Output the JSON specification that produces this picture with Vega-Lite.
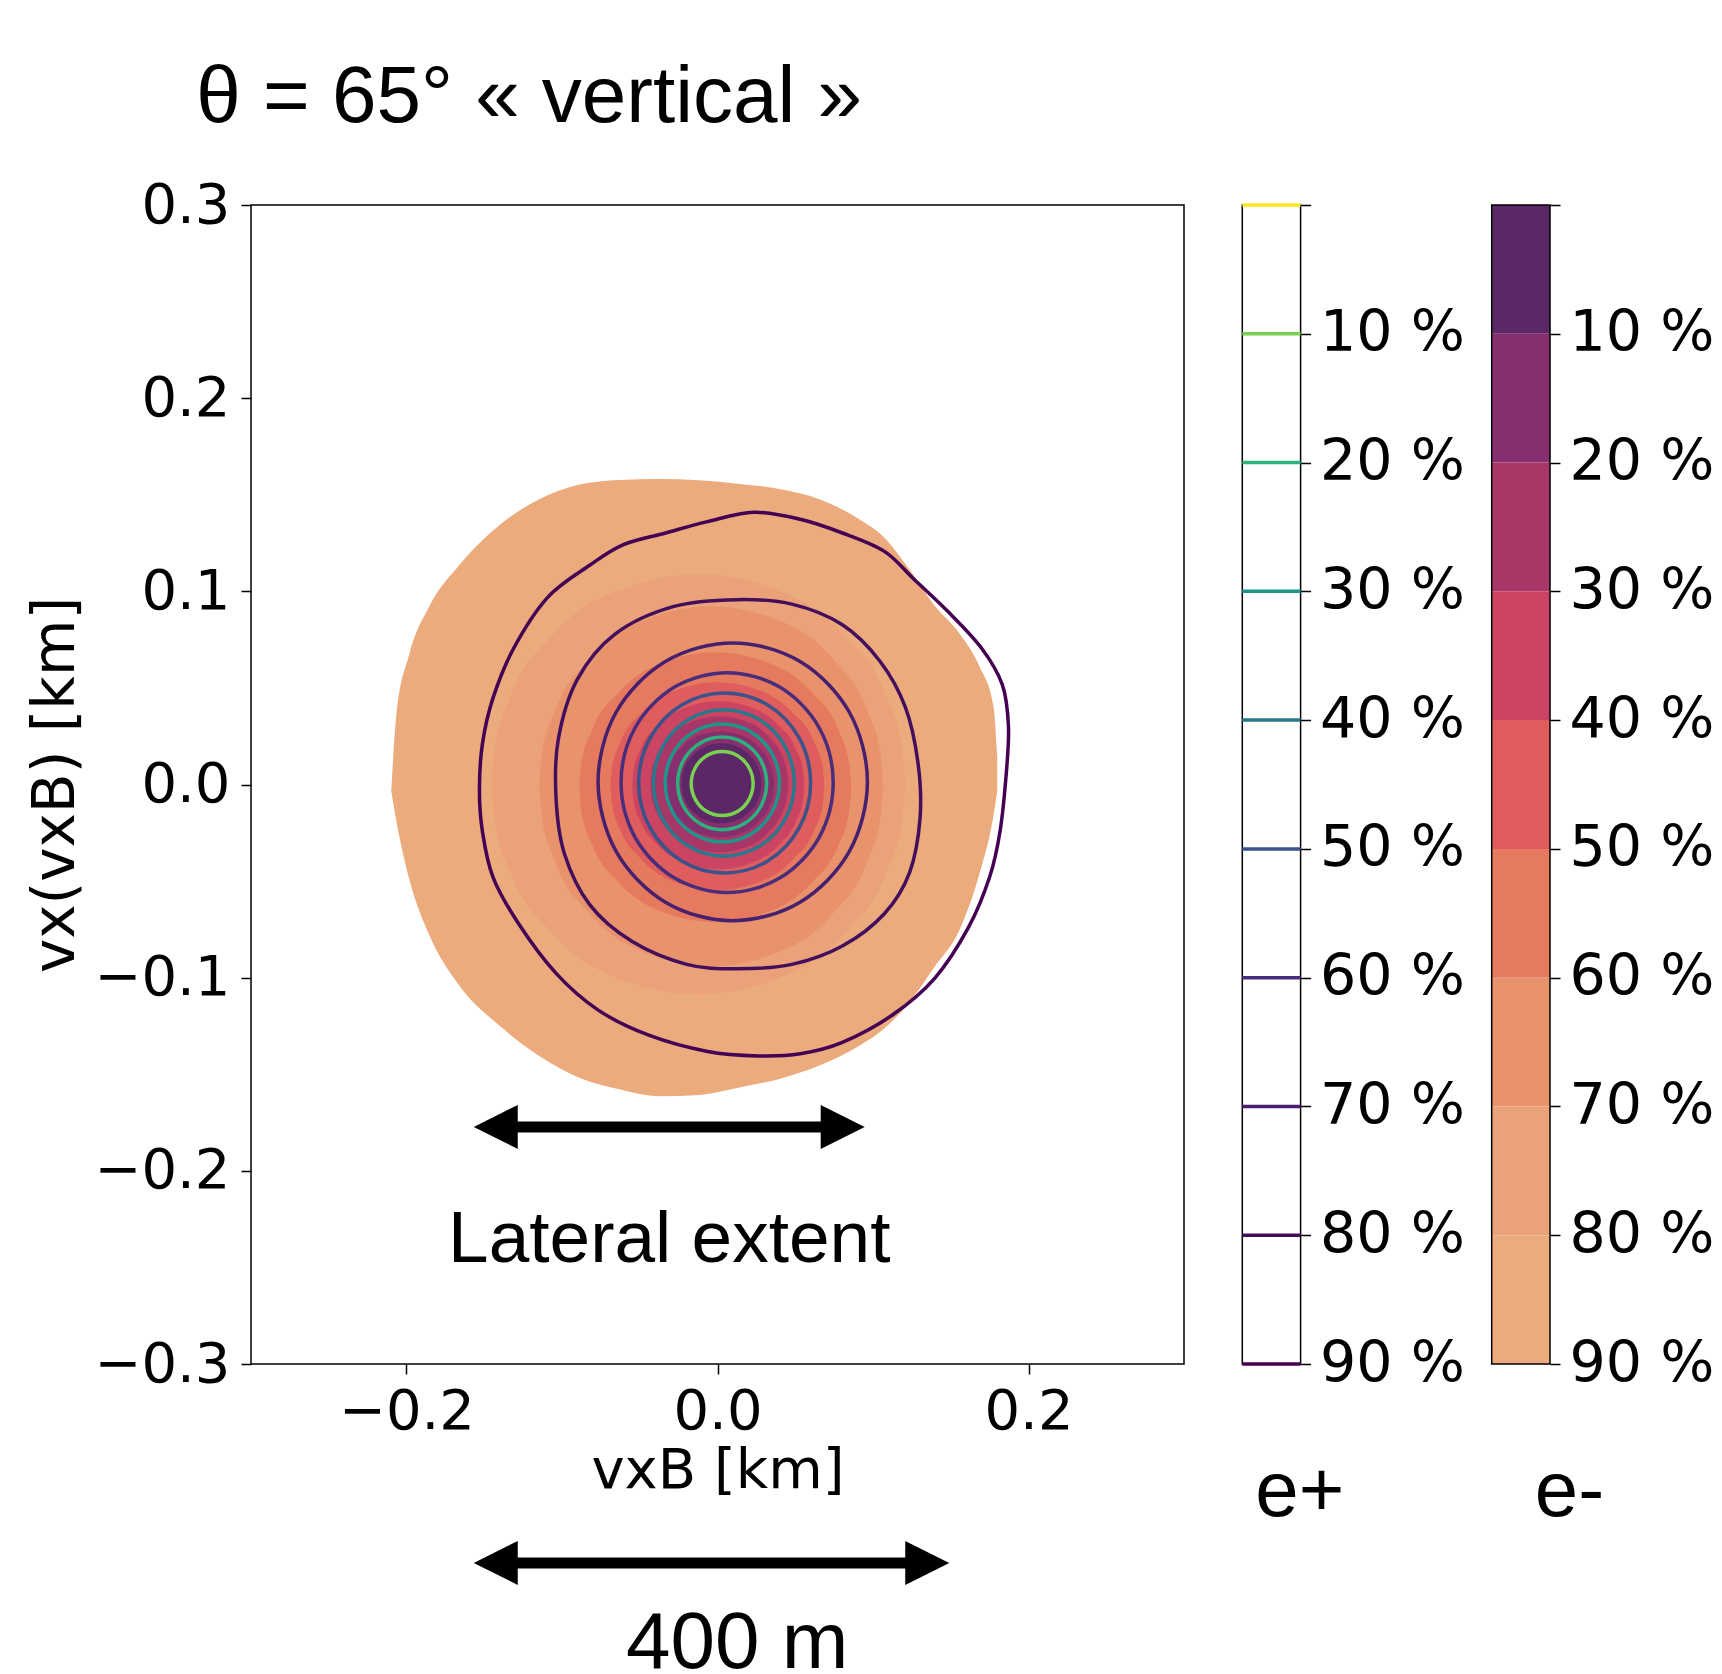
{
  "$schema": "https://vega.github.io/schema/vega-lite/v6.json",
  "background": "white",
  "padding": {"left": 26, "top": 57, "right": 5, "bottom": 0},
  "bounds": "flush",
  "spacing": 58.3,
  "resolve": {"scale": {"color": "independent"}},
  "datasets": {
    "fill": [
      {"p":90,"x":-0.2098,"y":-0.0035,"y2":-0.0035},
      {"p":90,"x":-0.2066,"y":0.0353,"y2":-0.0185},
      {"p":90,"x":-0.1982,"y":0.0674,"y2":-0.0491},
      {"p":90,"x":-0.1853,"y":0.0923,"y2":-0.0781},
      {"p":90,"x":-0.1660,"y":0.1136,"y2":-0.1042},
      {"p":90,"x":-0.1403,"y":0.1342,"y2":-0.1248},
      {"p":90,"x":-0.1146,"y":0.1477,"y2":-0.1406},
      {"p":90,"x":-0.0889,"y":0.1553,"y2":-0.1518},
      {"p":90,"x":-0.0632,"y":0.1577,"y2":-0.1578},
      {"p":90,"x":-0.0374,"y":0.1582,"y2":-0.1614},
      {"p":90,"x":-0.0117,"y":0.1575,"y2":-0.1607},
      {"p":90,"x":0.0140,"y":0.1556,"y2":-0.1569},
      {"p":90,"x":0.0398,"y":0.1530,"y2":-0.1524},
      {"p":90,"x":0.0655,"y":0.1477,"y2":-0.1455},
      {"p":90,"x":0.0912,"y":0.1373,"y2":-0.1352},
      {"p":90,"x":0.1073,"y":0.1278,"y2":-0.1263},
      {"p":90,"x":0.1234,"y":0.1114,"y2":-0.1128},
      {"p":90,"x":0.1394,"y":0.0928,"y2":-0.0946},
      {"p":90,"x":0.1555,"y":0.0783,"y2":-0.0755},
      {"p":90,"x":0.1684,"y":0.0612,"y2":-0.0463},
      {"p":90,"x":0.1774,"y":0.0410,"y2":-0.0165},
      {"p":90,"x":0.1799,"y":0.0146,"y2":-0.0035},

      {"p":80,"x":-0.1454,"y":0.0001,"y2":0.0001},
      {"p":80,"x":-0.1434,"y":0.0190,"y2":-0.0188},
      {"p":80,"x":-0.1329,"y":0.0461,"y2":-0.0459},
      {"p":80,"x":-0.1064,"y":0.0770,"y2":-0.0768},
      {"p":80,"x":-0.0578,"y":0.1023,"y2":-0.1021},
      {"p":80,"x":-0.0123,"y":0.1088,"y2":-0.1086},
      {"p":80,"x":0.0332,"y":0.1023,"y2":-0.1021},
      {"p":80,"x":0.0818,"y":0.0770,"y2":-0.0768},
      {"p":80,"x":0.1083,"y":0.0461,"y2":-0.0459},
      {"p":80,"x":0.1188,"y":0.0190,"y2":-0.0188},
      {"p":80,"x":0.1208,"y":0.0001,"y2":0.0001},

      {"p":70,"x":-0.1146,"y":-0.0009,"y2":-0.0009},
      {"p":70,"x":-0.1129,"y":0.0153,"y2":-0.0171},
      {"p":70,"x":-0.1042,"y":0.0385,"y2":-0.0403},
      {"p":70,"x":-0.0822,"y":0.0650,"y2":-0.0668},
      {"p":70,"x":-0.0418,"y":0.0867,"y2":-0.0885},
      {"p":70,"x":-0.0040,"y":0.0923,"y2":-0.0941},
      {"p":70,"x":0.0338,"y":0.0867,"y2":-0.0885},
      {"p":70,"x":0.0742,"y":0.0650,"y2":-0.0668},
      {"p":70,"x":0.0962,"y":0.0385,"y2":-0.0403},
      {"p":70,"x":0.1049,"y":0.0153,"y2":-0.0171},
      {"p":70,"x":0.1066,"y":-0.0009,"y2":-0.0009},

      {"p":60,"x":-0.0889,"y":-0.0015,"y2":-0.0015},
      {"p":60,"x":-0.0876,"y":0.0107,"y2":-0.0137},
      {"p":60,"x":-0.0807,"y":0.0281,"y2":-0.0311},
      {"p":60,"x":-0.0633,"y":0.0479,"y2":-0.0509},
      {"p":60,"x":-0.0313,"y":0.0642,"y2":-0.0672},
      {"p":60,"x":-0.0014,"y":0.0684,"y2":-0.0714},
      {"p":60,"x":0.0285,"y":0.0642,"y2":-0.0672},
      {"p":60,"x":0.0605,"y":0.0479,"y2":-0.0509},
      {"p":60,"x":0.0779,"y":0.0281,"y2":-0.0311},
      {"p":60,"x":0.0848,"y":0.0107,"y2":-0.0137},
      {"p":60,"x":0.0861,"y":-0.0015,"y2":-0.0015},

      {"p":50,"x":-0.0689,"y":-0.0009,"y2":-0.0009},
      {"p":50,"x":-0.0679,"y":0.0085,"y2":-0.0103},
      {"p":50,"x":-0.0624,"y":0.0219,"y2":-0.0237},
      {"p":50,"x":-0.0487,"y":0.0371,"y2":-0.0389},
      {"p":50,"x":-0.0236,"y":0.0497,"y2":-0.0515},
      {"p":50,"x":-0.0001,"y":0.0529,"y2":-0.0547},
      {"p":50,"x":0.0234,"y":0.0497,"y2":-0.0515},
      {"p":50,"x":0.0485,"y":0.0371,"y2":-0.0389},
      {"p":50,"x":0.0622,"y":0.0219,"y2":-0.0237},
      {"p":50,"x":0.0677,"y":0.0085,"y2":-0.0103},
      {"p":50,"x":0.0687,"y":-0.0009,"y2":-0.0009},

      {"p":40,"x":-0.0548,"y":-0.0004,"y2":-0.0004},
      {"p":40,"x":-0.0540,"y":0.0072,"y2":-0.0080},
      {"p":40,"x":-0.0496,"y":0.0180,"y2":-0.0188},
      {"p":40,"x":-0.0386,"y":0.0304,"y2":-0.0312},
      {"p":40,"x":-0.0184,"y":0.0405,"y2":-0.0413},
      {"p":40,"x":0.0005,"y":0.0431,"y2":-0.0439},
      {"p":40,"x":0.0194,"y":0.0405,"y2":-0.0413},
      {"p":40,"x":0.0396,"y":0.0304,"y2":-0.0312},
      {"p":40,"x":0.0506,"y":0.0180,"y2":-0.0188},
      {"p":40,"x":0.0550,"y":0.0072,"y2":-0.0080},
      {"p":40,"x":0.0558,"y":-0.0004,"y2":-0.0004},

      {"p":30,"x":-0.0432,"y":0.0001,"y2":0.0001},
      {"p":30,"x":-0.0425,"y":0.0062,"y2":-0.0060},
      {"p":30,"x":-0.0390,"y":0.0150,"y2":-0.0148},
      {"p":30,"x":-0.0302,"y":0.0250,"y2":-0.0248},
      {"p":30,"x":-0.0140,"y":0.0332,"y2":-0.0330},
      {"p":30,"x":0.0012,"y":0.0353,"y2":-0.0351},
      {"p":30,"x":0.0164,"y":0.0332,"y2":-0.0330},
      {"p":30,"x":0.0326,"y":0.0250,"y2":-0.0248},
      {"p":30,"x":0.0414,"y":0.0150,"y2":-0.0148},
      {"p":30,"x":0.0449,"y":0.0062,"y2":-0.0060},
      {"p":30,"x":0.0456,"y":0.0001,"y2":0.0001},

      {"p":20,"x":-0.0329,"y":0.0001,"y2":0.0001},
      {"p":20,"x":-0.0324,"y":0.0049,"y2":-0.0047},
      {"p":20,"x":-0.0296,"y":0.0117,"y2":-0.0115},
      {"p":20,"x":-0.0227,"y":0.0195,"y2":-0.0193},
      {"p":20,"x":-0.0101,"y":0.0259,"y2":-0.0257},
      {"p":20,"x":0.0018,"y":0.0275,"y2":-0.0273},
      {"p":20,"x":0.0137,"y":0.0259,"y2":-0.0257},
      {"p":20,"x":0.0263,"y":0.0195,"y2":-0.0193},
      {"p":20,"x":0.0332,"y":0.0117,"y2":-0.0115},
      {"p":20,"x":0.0360,"y":0.0049,"y2":-0.0047},
      {"p":20,"x":0.0365,"y":0.0001,"y2":0.0001},

      {"p":10,"x":-0.0232,"y":0.0006,"y2":0.0006},
      {"p":10,"x":-0.0228,"y":0.0042,"y2":-0.0030},
      {"p":10,"x":-0.0208,"y":0.0094,"y2":-0.0082},
      {"p":10,"x":-0.0157,"y":0.0152,"y2":-0.0140},
      {"p":10,"x":-0.0063,"y":0.0201,"y2":-0.0189},
      {"p":10,"x":0.0025,"y":0.0213,"y2":-0.0201},
      {"p":10,"x":0.0113,"y":0.0201,"y2":-0.0189},
      {"p":10,"x":0.0207,"y":0.0152,"y2":-0.0140},
      {"p":10,"x":0.0258,"y":0.0094,"y2":-0.0082},
      {"p":10,"x":0.0278,"y":0.0042,"y2":-0.0030},
      {"p":10,"x":0.0282,"y":0.0006,"y2":0.0006}
    ],
    "ring": [
      {"p":10,"i":0,"x":0.0229,"y":0.0005},{"p":10,"i":1,"x":0.0202,"y":0.0088},{"p":10,"i":2,"x":0.0130,"y":0.0149},{"p":10,"i":3,"x":0.0030,"y":0.0171},{"p":10,"i":4,"x":-0.0070,"y":0.0149},{"p":10,"i":5,"x":-0.0142,"y":0.0088},{"p":10,"i":6,"x":-0.0169,"y":0.0005},{"p":10,"i":7,"x":-0.0142,"y":-0.0078},{"p":10,"i":8,"x":-0.0070,"y":-0.0139},{"p":10,"i":9,"x":0.0030,"y":-0.0161},{"p":10,"i":10,"x":0.0130,"y":-0.0139},{"p":10,"i":11,"x":0.0202,"y":-0.0078},
      {"p":20,"i":0,"x":0.0316,"y":0.0006},{"p":20,"i":1,"x":0.0278,"y":0.0126},{"p":20,"i":2,"x":0.0173,"y":0.0214},{"p":20,"i":3,"x":0.0030,"y":0.0246},{"p":20,"i":4,"x":-0.0113,"y":0.0214},{"p":20,"i":5,"x":-0.0218,"y":0.0126},{"p":20,"i":6,"x":-0.0256,"y":0.0006},{"p":20,"i":7,"x":-0.0218,"y":-0.0114},{"p":20,"i":8,"x":-0.0113,"y":-0.0202},{"p":20,"i":9,"x":0.0030,"y":-0.0234},{"p":20,"i":10,"x":0.0173,"y":-0.0202},{"p":20,"i":11,"x":0.0278,"y":-0.0114},
      {"p":30,"i":0,"x":0.0398,"y":0.0008},{"p":30,"i":1,"x":0.0349,"y":0.0161},{"p":30,"i":2,"x":0.0215,"y":0.0272},{"p":30,"i":3,"x":0.0031,"y":0.0313},{"p":30,"i":4,"x":-0.0153,"y":0.0272},{"p":30,"i":5,"x":-0.0287,"y":0.0161},{"p":30,"i":6,"x":-0.0336,"y":0.0008},{"p":30,"i":7,"x":-0.0287,"y":-0.0145},{"p":30,"i":8,"x":-0.0153,"y":-0.0256},{"p":30,"i":9,"x":0.0031,"y":-0.0297},{"p":30,"i":10,"x":0.0215,"y":-0.0256},{"p":30,"i":11,"x":0.0349,"y":-0.0145},
      {"p":40,"i":0,"x":0.0494,"y":0.0008},{"p":40,"i":1,"x":0.0433,"y":0.0198},{"p":40,"i":2,"x":0.0268,"y":0.0336},{"p":40,"i":3,"x":0.0041,"y":0.0387},{"p":40,"i":4,"x":-0.0186,"y":0.0336},{"p":40,"i":5,"x":-0.0351,"y":0.0198},{"p":40,"i":6,"x":-0.0412,"y":0.0008},{"p":40,"i":7,"x":-0.0351,"y":-0.0182},{"p":40,"i":8,"x":-0.0186,"y":-0.0320},{"p":40,"i":9,"x":0.0041,"y":-0.0371},{"p":40,"i":10,"x":0.0268,"y":-0.0320},{"p":40,"i":11,"x":0.0433,"y":-0.0182},
      {"p":50,"i":0,"x":0.0599,"y":0.0008},{"p":50,"i":1,"x":0.0525,"y":0.0241},{"p":50,"i":2,"x":0.0323,"y":0.0412},{"p":50,"i":3,"x":0.0046,"y":0.0474},{"p":50,"i":4,"x":-0.0231,"y":0.0412},{"p":50,"i":5,"x":-0.0433,"y":0.0241},{"p":50,"i":6,"x":-0.0507,"y":0.0008},{"p":50,"i":7,"x":-0.0433,"y":-0.0225},{"p":50,"i":8,"x":-0.0231,"y":-0.0396},{"p":50,"i":9,"x":0.0046,"y":-0.0458},{"p":50,"i":10,"x":0.0323,"y":-0.0396},{"p":50,"i":11,"x":0.0525,"y":-0.0225},
      {"p":60,"i":0,"x":0.0744,"y":0.0010},{"p":60,"i":1,"x":0.0653,"y":0.0295},{"p":60,"i":2,"x":0.0403,"y":0.0503},{"p":60,"i":3,"x":0.0062,"y":0.0579},{"p":60,"i":4,"x":-0.0279,"y":0.0503},{"p":60,"i":5,"x":-0.0529,"y":0.0295},{"p":60,"i":6,"x":-0.0620,"y":0.0010},{"p":60,"i":7,"x":-0.0529,"y":-0.0275},{"p":60,"i":8,"x":-0.0279,"y":-0.0483},{"p":60,"i":9,"x":0.0062,"y":-0.0559},{"p":60,"i":10,"x":0.0403,"y":-0.0483},{"p":60,"i":11,"x":0.0653,"y":-0.0275},
      {"p":70,"i":0,"x":0.0964,"y":0.0014},{"p":70,"i":1,"x":0.0848,"y":0.0374},{"p":70,"i":2,"x":0.0531,"y":0.0637},{"p":70,"i":3,"x":0.0098,"y":0.0733},{"p":70,"i":4,"x":-0.0335,"y":0.0637},{"p":70,"i":5,"x":-0.0652,"y":0.0374},{"p":70,"i":6,"x":-0.0768,"y":0.0014},{"p":70,"i":7,"x":-0.0652,"y":-0.0346},{"p":70,"i":8,"x":-0.0335,"y":-0.0609},{"p":70,"i":9,"x":0.0098,"y":-0.0705},{"p":70,"i":10,"x":0.0531,"y":-0.0609},{"p":70,"i":11,"x":0.0848,"y":-0.0346},
      {"p":80,"i":0,"x":0.0125,"y":0.0957},{"p":80,"i":1,"x":-0.0280,"y":0.0922},{"p":80,"i":2,"x":-0.0659,"y":0.0779},{"p":80,"i":3,"x":-0.0903,"y":0.0542},{"p":80,"i":4,"x":-0.1024,"y":0.0233},{"p":80,"i":5,"x":-0.1038,"y":-0.0076},{"p":80,"i":6,"x":-0.0984,"y":-0.0360},{"p":80,"i":7,"x":-0.0822,"y":-0.0622},{"p":80,"i":8,"x":-0.0551,"y":-0.0812},{"p":80,"i":9,"x":-0.0199,"y":-0.0931},{"p":80,"i":10,"x":0.0125,"y":-0.0954},{"p":80,"i":11,"x":0.0478,"y":-0.0931},{"p":80,"i":12,"x":0.0803,"y":-0.0836},{"p":80,"i":13,"x":0.1073,"y":-0.0669},{"p":80,"i":14,"x":0.1235,"y":-0.0456},{"p":80,"i":15,"x":0.1303,"y":-0.0170},{"p":80,"i":16,"x":0.1289,"y":0.0114},{"p":80,"i":17,"x":0.1208,"y":0.0400},{"p":80,"i":18,"x":0.1046,"y":0.0637},{"p":80,"i":19,"x":0.0803,"y":0.0827},{"p":80,"i":20,"x":0.0478,"y":0.0934},
      {"p":90,"i":0,"x":0.0234,"y":0.1409},{"p":90,"i":1,"x":0.0532,"y":0.1373},{"p":90,"i":2,"x":0.0803,"y":0.1302},{"p":90,"i":3,"x":0.1073,"y":0.1207},{"p":90,"i":4,"x":0.1262,"y":0.1064},{"p":90,"i":5,"x":0.1479,"y":0.0898},{"p":90,"i":6,"x":0.1696,"y":0.0708},{"p":90,"i":7,"x":0.1831,"y":0.0518},{"p":90,"i":8,"x":0.1871,"y":0.0304},{"p":90,"i":9,"x":0.1858,"y":0.0067},{"p":90,"i":10,"x":0.1817,"y":-0.0242},{"p":90,"i":11,"x":0.1750,"y":-0.0479},{"p":90,"i":12,"x":0.1614,"y":-0.0740},{"p":90,"i":13,"x":0.1398,"y":-0.1002},{"p":90,"i":14,"x":0.1127,"y":-0.1192},{"p":90,"i":15,"x":0.0803,"y":-0.1335},{"p":90,"i":16,"x":0.0532,"y":-0.1394},{"p":90,"i":17,"x":0.0261,"y":-0.1405},{"p":90,"i":18,"x":-0.0064,"y":-0.1382},{"p":90,"i":19,"x":-0.0442,"y":-0.1298},{"p":90,"i":20,"x":-0.0767,"y":-0.1168},{"p":90,"i":21,"x":-0.1038,"y":-0.0978},{"p":90,"i":22,"x":-0.1282,"y":-0.0717},{"p":90,"i":23,"x":-0.1444,"y":-0.0479},{"p":90,"i":24,"x":-0.1512,"y":-0.0242},{"p":90,"i":25,"x":-0.1531,"y":-0.0028},{"p":90,"i":26,"x":-0.1512,"y":0.0209},{"p":90,"i":27,"x":-0.1444,"y":0.0447},{"p":90,"i":28,"x":-0.1309,"y":0.0708},{"p":90,"i":29,"x":-0.1092,"y":0.0969},{"p":90,"i":30,"x":-0.0822,"y":0.1135},{"p":90,"i":31,"x":-0.0605,"y":0.1242},{"p":90,"i":32,"x":-0.0334,"y":0.1302},{"p":90,"i":33,"x":-0.0064,"y":0.1361}
    ],
    "arrows": [
      {"x": -0.1426, "x2": 0.0805, "y": -0.1773},
      {"x": -0.1426, "x2": 0.1349, "y": -0.4030}
    ],
    "heads": [
      {"x": -0.1426, "y": -0.1773, "d": "L"},
      {"x": 0.0805, "y": -0.1773, "d": "R"},
      {"x": -0.1426, "y": -0.4030, "d": "L"},
      {"x": 0.1349, "y": -0.4030, "d": "R"}
    ],
    "cb": [{"p":0},{"p":10},{"p":20},{"p":30},{"p":40},{"p":50},{"p":60},{"p":70},{"p":80},{"p":90}],
    "cbm": [{"lo":0,"hi":10},{"lo":10,"hi":20},{"lo":20,"hi":30},{"lo":30,"hi":40},{"lo":40,"hi":50},{"lo":50,"hi":60},{"lo":60,"hi":70},{"lo":70,"hi":80},{"lo":80,"hi":90}]
  },
  "hconcat": [
    {
      "width": 933,
      "height": 1159,
      "view": {"stroke": "black", "strokeWidth": 1.5},
      "encoding": {
        "x": {"field": "x", "type": "quantitative",
          "scale": {"domain": [-0.3, 0.3], "nice": false, "zero": false},
          "axis": {"title": "vxB [km]", "values": [-0.2, 0, 0.2], "format": ".1f", "domain": false, "tickSize": 10, "labelFontSize": 56, "labelPadding": 10, "titleFontSize": 56, "titlePadding": 4}},
        "y": {"field": "y", "type": "quantitative",
          "scale": {"domain": [-0.3, 0.3], "nice": false, "zero": false},
          "axis": {"title": "vx(vxB) [km]", "values": [-0.3, -0.2, -0.1, 0, 0.1, 0.2, 0.3], "format": ".1f", "domain": false, "tickSize": 10, "labelFontSize": 56, "labelPadding": 11, "titleFontSize": 58, "titlePadding": 9}}
      },
      "layer": [
        {
          "data": {"name": "fill"},
          "mark": {"type": "area", "interpolate": "monotone", "opacity": 1},
          "encoding": {
            "y2": {"field": "y2"},
            "color": {"field": "p", "type": "ordinal",
              "scale": {"domain": [90, 80, 70, 60, 50, 40, 30, 20, 10],
                "range": ["#ecab7d", "#eba179", "#e9936d", "#e67a5f", "#df5d5c", "#cb4461", "#a83768", "#872e6e", "#5c2767"]},
              "legend": null}
          }
        },
        {
          "data": {"name": "ring"},
          "mark": {"type": "line", "interpolate": "cardinal-closed", "strokeWidth": 3.5},
          "encoding": {
            "order": {"field": "i", "type": "quantitative"},
            "color": {"field": "p", "type": "ordinal",
              "scale": {"domain": [10, 20, 30, 40, 50, 60, 70, 80, 90],
                "range": ["#7ad151", "#2db27d", "#1f968b", "#2a788e", "#3b528b", "#472d7b", "#46206f", "#430f5c", "#440154"]},
              "legend": null}
          }
        },
        {
          "data": {"name": "arrows"},
          "mark": {"type": "rule", "strokeWidth": 11, "color": "black"},
          "encoding": {"x2": {"field": "x2"}}
        },
        {
          "data": {"name": "heads"},
          "mark": {"type": "point", "filled": true, "size": 1936, "color": "black", "opacity": 1, "strokeWidth": 0},
          "encoding": {
            "shape": {"field": "d", "type": "nominal",
              "scale": {"domain": ["L", "R"], "range": ["M -1 0 L 1 -1 L 1 1 Z", "M 1 0 L -1 -1 L -1 1 Z"]},
              "legend": null}
          }
        },
        {
          "data": {"values": [{"x": -0.0310, "y": -0.2472, "t": "Lateral extent"}]},
          "mark": {"type": "text", "font": "Liberation Sans", "fontSize": 73, "align": "center", "baseline": "alphabetic", "color": "black"},
          "encoding": {"text": {"field": "t"}}
        },
        {
          "data": {"values": [{"x": 0.0127, "y": -0.4575, "t": "400 m"}]},
          "mark": {"type": "text", "font": "Liberation Sans", "fontSize": 80, "align": "center", "baseline": "alphabetic", "color": "black"},
          "encoding": {"text": {"field": "t"}}
        },
        {
          "data": {"values": [{"x": -0.3352, "y": 0.3428, "t": "θ = 65° « vertical »"}]},
          "mark": {"type": "text", "font": "Liberation Sans", "fontSize": 80, "align": "left", "baseline": "alphabetic", "color": "black"},
          "encoding": {"text": {"field": "t"}}
        }
      ],
      "resolve": {"scale": {"color": "independent"}}
    },
    {
      "width": 58.3,
      "height": 1159,
      "view": {"stroke": "black", "strokeWidth": 1.5},
      "layer": [
        {
          "data": {"name": "cb"},
          "mark": {"type": "rule", "strokeWidth": 3.5},
          "encoding": {
            "y": {"field": "p", "type": "quantitative",
              "scale": {"domain": [0, 90], "reverse": true, "nice": false, "zero": false},
              "axis": {"orient": "right", "title": null, "values": [0, 10, 20, 30, 40, 50, 60, 70, 80, 90], "labelExpr": "datum.value == 0 ? '' : datum.value + ' %'", "domain": false, "tickSize": 10, "labelFontSize": 57, "labelPadding": 9}},
            "color": {"field": "p", "type": "ordinal",
              "scale": {"domain": [0, 10, 20, 30, 40, 50, 60, 70, 80, 90],
                "range": ["#fde725", "#7ad151", "#2db27d", "#1f968b", "#2a788e", "#3b528b", "#472d7b", "#46206f", "#430f5c", "#440154"]},
              "legend": null}
          }
        },
        {
          "data": {"values": [{"x": 0.986, "p": 101.82, "t": "e+"}]},
          "mark": {"type": "text", "font": "Liberation Sans", "fontSize": 78, "align": "center", "baseline": "alphabetic", "color": "black"},
          "encoding": {
            "x": {"field": "x", "type": "quantitative", "scale": {"domain": [0, 1], "nice": false, "zero": false}, "axis": null},
            "y": {"field": "p", "type": "quantitative"},
            "text": {"field": "t"}
          }
        }
      ]
    },
    {
      "width": 190.4,
      "height": 1159,
      "view": {"stroke": null},
      "layer": [
        {
          "data": {"name": "cbm"},
          "mark": {"type": "rect"},
          "encoding": {
            "x": {"datum": 0, "type": "quantitative", "scale": {"domain": [-2.266, 1], "nice": false, "zero": false}, "axis": null},
            "x2": {"datum": 1},
            "y": {"field": "lo", "type": "quantitative",
              "scale": {"domain": [0, 90], "reverse": true, "nice": false, "zero": false},
              "axis": {"orient": "right", "title": null, "values": [0, 10, 20, 30, 40, 50, 60, 70, 80, 90], "labelExpr": "datum.value == 0 ? '' : datum.value + ' %'", "domain": false, "tickSize": 10, "labelFontSize": 57, "labelPadding": 9}},
            "y2": {"field": "hi"},
            "color": {"field": "hi", "type": "ordinal",
              "scale": {"domain": [10, 20, 30, 40, 50, 60, 70, 80, 90],
                "range": ["#5c2767", "#872e6e", "#a83768", "#cb4461", "#df5d5c", "#e67a5f", "#e9936d", "#eba179", "#ecab7d"]},
              "legend": null}
          }
        },
        {
          "data": {"values": [{"lo": 0, "hi": 90}]},
          "mark": {"type": "rect", "filled": false, "color": "black", "strokeWidth": 1.5},
          "encoding": {
            "x": {"datum": 0, "type": "quantitative"},
            "x2": {"datum": 1},
            "y": {"field": "lo", "type": "quantitative"},
            "y2": {"field": "hi"}
          }
        },
        {
          "data": {"values": [{"x": 1.334, "lo": 101.82, "t": "e-"}]},
          "mark": {"type": "text", "font": "Liberation Sans", "fontSize": 78, "align": "center", "baseline": "alphabetic", "color": "black"},
          "encoding": {
            "x": {"field": "x", "type": "quantitative"},
            "y": {"field": "lo", "type": "quantitative"},
            "text": {"field": "t"}
          }
        }
      ]
    }
  ],
  "config": {
    "view": {"stroke": null},
    "axis": {
      "labelFont": "DejaVu Sans",
      "titleFont": "DejaVu Sans",
      "labelColor": "black",
      "titleColor": "black",
      "tickColor": "black",
      "tickWidth": 1.5,
      "grid": false,
      "titleFontWeight": "normal"
    }
  }
}
